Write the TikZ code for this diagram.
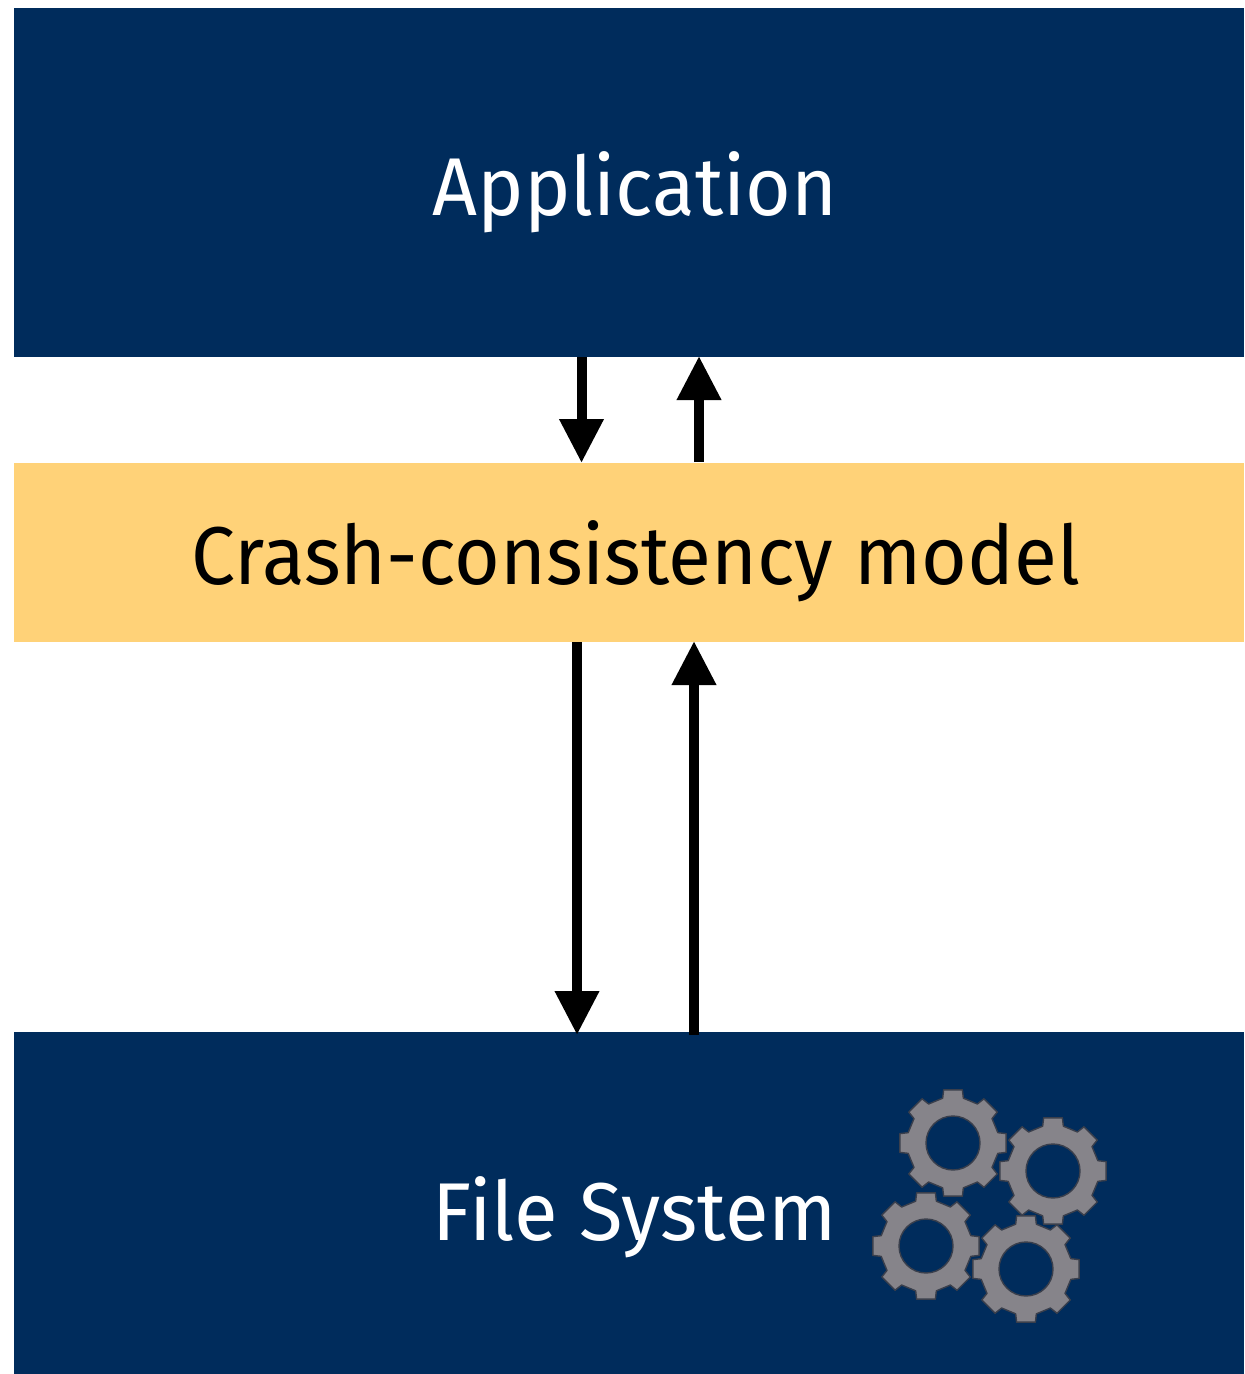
\documentclass[tikz,border=0pt]{standalone}
\usepackage{fontspec}
\setmainfont[FakeStretch=0.957]{Fira Sans}
\newfontfamily\fslabelfont[FakeStretch=0.972]{Fira Sans}
\usetikzlibrary{arrows.meta}
\definecolor{navy}{HTML}{002C5C}
\definecolor{amber}{HTML}{FFD278}
\definecolor{geargray}{HTML}{86848A}
\definecolor{gearedge}{HTML}{3A3F4C}
\tikzset{
  x=0.5pt,y=-0.5pt,
  block/.style={draw=none,inner sep=0pt,outer sep=0pt,minimum width=615pt},
  navyblock/.style={block,fill=navy},
  label/.style={inner sep=0pt,anchor=base,font=\fontsize{41}{41}\selectfont},
  flow/.style={line width=5pt,draw=black,-{Triangle[length=22pt,width=21pt]},shorten >=-1pt},
  gearshape/.style={fill=geargray,draw=gearedge,line width=0.7pt,line join=round,even odd rule},
  pics/gear/.style={code={
    \path[gearshape]
      (-13:46) \foreach \a in {0,45,...,315}{
        -- (\a-13:46) -- (\a-10:54) -- (\a+10:54) -- (\a+13:46)
      } -- cycle
      (0,0) circle[radius=27];
  }}
}
\begin{document}
\begin{tikzpicture}
\useasboundingbox (0,0) rectangle (1244,1374);
\node[navyblock,minimum height=174.5pt] (app) at (629,182.5) {};
\node[block,fill=amber,minimum height=89.5pt] (model) at (629,552.5) {};
\node[navyblock,minimum height=171pt] (fs) at (629,1203) {};
\node[label,text=white] (applabel) at (635,216) {Application};
\node[label,text=black] (modellabel) at (636,584) {Crash-consistency model};
\node[label,text=white] (fslabel) at (635,1240) {\fslabelfont File System};
\coordinate (a1) at (581.5,357); \coordinate (m1) at (581.5,461);
\coordinate (m2) at (699,462); \coordinate (a2) at (699,358);
\coordinate (m3) at (577,642); \coordinate (f1) at (577,1033);
\coordinate (f2) at (694,1035); \coordinate (m4) at (694,643);
\draw[flow] (a1) -- (m1);
\draw[flow] (m2) -- (a2);
\draw[flow] (m3) -- (f1);
\draw[flow] (f2) -- (m4);
\pic at (953,1143) {gear};
\pic at (1053,1171) {gear};
\pic at (926,1246) {gear};
\pic at (1026,1269) {gear};
\end{tikzpicture}
\end{document}
